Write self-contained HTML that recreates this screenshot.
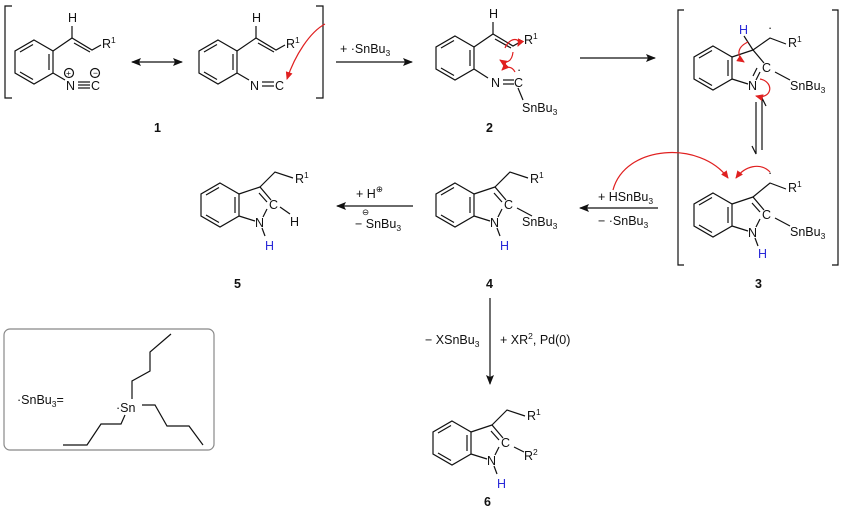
<!DOCTYPE html>
<html><head><meta charset="utf-8"><style>
html,body{margin:0;padding:0;background:#fff}
svg{display:block}
text{font-family:"Liberation Sans",Arial,sans-serif;font-size:12.5px;fill:#111}
.b{font-weight:bold}
.h{fill:#2a2ad8}
.s{font-size:8.5px}
</style></head><body>
<svg width="844" height="512" viewBox="0 0 844 512" xmlns="http://www.w3.org/2000/svg">
<defs>
<g id="benz" fill="none" stroke="#111" stroke-width="1.2">
<polygon points="0,-22 19,-11 19,11 0,22 -19,11 -19,-11"/>
<line x1="15" y1="-8" x2="15" y2="8"/>
<line x1="-1" y1="17.5" x2="-14" y2="10"/>
<line x1="-14" y1="-10" x2="-1" y2="-17.5"/>
</g>
<marker id="ah" markerWidth="10" markerHeight="8" refX="9" refY="4" orient="auto" markerUnits="userSpaceOnUse"><path d="M0,0 L10,4 L0,8 L2,4Z" fill="#111"/></marker>
<marker id="ahb" markerWidth="10" markerHeight="8" refX="1" refY="4" orient="auto" markerUnits="userSpaceOnUse"><path d="M10,0 L0,4 L10,8 L8,4Z" fill="#111"/></marker>
<marker id="rh" markerWidth="8" markerHeight="7" refX="7" refY="3.5" orient="auto" markerUnits="userSpaceOnUse"><path d="M0,0 L8,3.5 L0,7Z" fill="#e02020"/></marker>
</defs>
<g fill="none" stroke="#111" stroke-width="1.2">
<path d="M12,6 H5 V98 H12"/><path d="M316,6 H323 V98 H316"/>
<path d="M684,10 H678 V265 H684"/><path d="M832,10 H838 V265 H832"/>
<line x1="132" y1="62" x2="182" y2="62" marker-end="url(#ah)" marker-start="url(#ahb)"/>
<line x1="336" y1="62" x2="412" y2="62" marker-end="url(#ah)"/>
<line x1="580" y1="58" x2="655" y2="58" marker-end="url(#ah)"/>
<line x1="658" y1="208" x2="580" y2="208" marker-end="url(#ah)"/>
<line x1="413" y1="206" x2="337" y2="206" marker-end="url(#ah)"/>
<line x1="490" y1="298" x2="490" y2="384" marker-end="url(#ah)"/>
<path d="M756,102 V154 L752,146"/><path d="M762,150 V98 L766,106"/>
</g>
<!-- structure 1 -->
<use href="#benz" x="34" y="62"/>
<g fill="none" stroke="#111" stroke-width="1.2">
<path d="M53,51 L72,38 L92,50 L101,45"/><line x1="72" y1="38" x2="72" y2="26"/><line x1="74" y1="43" x2="90" y2="52"/>
<path d="M53,73 L65,80"/>
<line x1="78" y1="82" x2="90" y2="82"/><line x1="78" y1="85" x2="90" y2="85"/><line x1="78" y1="88" x2="90" y2="88"/>
<circle cx="69" cy="73" r="4.5"/><circle cx="95" cy="73" r="4.5"/>
</g>
<text x="68" y="22">H</text><text x="102" y="48">R<tspan class="s" dy="-5">1</tspan></text>
<text x="66" y="90">N</text><text x="91" y="90">C</text>
<text x="66" y="76" class="s">+</text><text x="93" y="76" class="s">−</text>
<text x="154" y="132" class="b">1</text>
<!-- structure 1' -->
<use href="#benz" x="218" y="62"/>
<g fill="none" stroke="#111" stroke-width="1.2">
<path d="M237,51 L256,38 L276,50 L285,45"/><line x1="256" y1="38" x2="256" y2="26"/><line x1="258" y1="43" x2="274" y2="52"/>
<path d="M237,73 L249,80"/>
<line x1="262" y1="82" x2="274" y2="82"/><line x1="262" y1="86" x2="274" y2="86"/>
</g>
<text x="252" y="22">H</text><text x="286" y="48">R<tspan class="s" dy="-5">1</tspan></text>
<text x="250" y="90">N</text><text x="275" y="90">C</text>
<path d="M325,24 C310,32 295,55 287,79" fill="none" stroke="#e02020" stroke-width="1.2" marker-end="url(#rh)"/>
<text x="340" y="53">+ ·SnBu<tspan class="s" dy="3">3</tspan></text>
<!-- structure 2 -->
<use href="#benz" x="455" y="58"/>
<g fill="none" stroke="#111" stroke-width="1.2">
<path d="M474,47 L493,34 L513,46 L522,41"/><line x1="493" y1="34" x2="493" y2="22"/><line x1="495" y1="39" x2="511" y2="48"/>
<path d="M474,69 L488,78"/>
<line x1="503" y1="80" x2="514" y2="80"/><line x1="503" y1="84" x2="514" y2="84"/>
<path d="M518,88 L523,100"/>
</g>
<text x="489" y="18">H</text><text x="524" y="44">R<tspan class="s" dy="-5">1</tspan></text>
<text x="491" y="87">N</text><text x="514" y="87">C</text><text x="517" y="74">·</text>
<text x="522" y="112">SnBu<tspan class="s" dy="3">3</tspan></text>
<text x="486" y="132" class="b">2</text>
<g fill="none" stroke="#e02020" stroke-width="1.2">
<path d="M505,48 C510,36 522,38 518,46" marker-end="url(#rh)"/>
<path d="M513,52 C512,62 506,64 500,60" marker-end="url(#rh)"/>
<path d="M515,72 C512,66 506,66 502,70" marker-end="url(#rh)"/>
</g>
<!-- structure 3 top -->
<use href="#benz" x="713" y="68"/>
<g fill="none" stroke="#111" stroke-width="1.2">
<path d="M732,57 L753,50 L764,63"/><path d="M732,79 L748,84"/><path d="M760,72 L756,80"/><line x1="757" y1="68" x2="753" y2="76"/>
<path d="M753,50 L744,36"/><path d="M753,50 L770,38 L786,44"/><path d="M775,72 L790,80"/>
</g>
<text x="739" y="34" class="h">H</text><text x="768" y="32">·</text>
<text x="788" y="47">R<tspan class="s" dy="-5">1</tspan></text>
<text x="762" y="72">C</text><text x="748" y="90">N</text>
<text x="790" y="90">SnBu<tspan class="s" dy="3">3</tspan></text>
<g fill="none" stroke="#e02020" stroke-width="1.2">
<path d="M748,42 C735,48 738,58 744,62" marker-end="url(#rh)"/>
<path d="M760,79 C775,82 772,100 756,96" marker-end="url(#rh)"/>
</g>
<!-- structure 3 bottom -->
<use href="#benz" x="713" y="215"/>
<g fill="none" stroke="#111" stroke-width="1.2">
<path d="M732,204 L753,197 L764,210"/><line x1="752" y1="203" x2="760" y2="212"/><path d="M732,226 L748,231"/><path d="M760,219 L756,227"/>
<path d="M753,197 L770,183 L786,189"/><path d="M775,218 L790,226"/><path d="M755,238 L758,246"/>
</g>
<text x="768" y="177">·</text><text x="788" y="192">R<tspan class="s" dy="-5">1</tspan></text>
<text x="762" y="219">C</text><text x="748" y="237">N</text><text x="758" y="258" class="h">H</text>
<text x="790" y="236">SnBu<tspan class="s" dy="3">3</tspan></text>
<text x="755" y="288" class="b">3</text>
<g fill="none" stroke="#e02020" stroke-width="1.2">
<path d="M613,190 C625,145 700,140 728,178" marker-end="url(#rh)"/>
<path d="M770,172 C760,162 745,166 736,178" marker-end="url(#rh)"/>
</g>
<text x="598" y="201">+ HSnBu<tspan class="s" dy="3">3</tspan></text>
<text x="598" y="225">− ·SnBu<tspan class="s" dy="3">3</tspan></text>
<!-- structure 4 -->
<use href="#benz" x="455" y="205"/>
<g fill="none" stroke="#111" stroke-width="1.2">
<path d="M474,194 L495,187 L506,200"/><line x1="494" y1="193" x2="502" y2="202"/><path d="M474,216 L490,221"/><path d="M502,209 L498,217"/>
<path d="M495,187 L510,172 L528,178"/><path d="M517,208 L532,216"/><path d="M497,228 L500,236"/>
</g>
<text x="530" y="183">R<tspan class="s" dy="-5">1</tspan></text>
<text x="504" y="209">C</text><text x="490" y="227">N</text><text x="500" y="250" class="h">H</text>
<text x="522" y="226">SnBu<tspan class="s" dy="3">3</tspan></text>
<text x="486" y="288" class="b">4</text>
<text x="356" y="198">+ H<tspan class="s" dy="-6">⊕</tspan></text>
<text x="355" y="228">− SnBu<tspan class="s" dy="3">3</tspan></text><text x="362" y="215" class="s">⊖</text>
<!-- structure 5 -->
<use href="#benz" x="220" y="205"/>
<g fill="none" stroke="#111" stroke-width="1.2">
<path d="M239,194 L260,187 L271,200"/><line x1="259" y1="193" x2="267" y2="202"/><path d="M239,216 L255,221"/><path d="M267,209 L263,217"/>
<path d="M260,187 L275,172 L293,178"/><path d="M280,207 L290,214"/><path d="M262,228 L265,236"/>
</g>
<text x="295" y="183">R<tspan class="s" dy="-5">1</tspan></text>
<text x="269" y="209">C</text><text x="255" y="227">N</text><text x="265" y="250" class="h">H</text>
<text x="290" y="226">H</text>
<text x="234" y="288" class="b">5</text>
<text x="425" y="344">− XSnBu<tspan class="s" dy="3">3</tspan></text>
<text x="500" y="344">+ XR<tspan class="s" dy="-5">2</tspan><tspan dy="5">, Pd(0)</tspan></text>
<!-- structure 6 -->
<use href="#benz" x="452" y="443"/>
<g fill="none" stroke="#111" stroke-width="1.2">
<path d="M471,432 L492,425 L503,438"/><line x1="491" y1="431" x2="499" y2="440"/><path d="M471,454 L487,459"/><path d="M499,447 L495,455"/>
<path d="M492,425 L507,410 L525,416"/><path d="M514,447 L524,452"/><path d="M494,466 L497,474"/>
</g>
<text x="527" y="420">R<tspan class="s" dy="-5">1</tspan></text>
<text x="501" y="447">C</text><text x="487" y="465">N</text><text x="497" y="488" class="h">H</text>
<text x="524" y="460">R<tspan class="s" dy="-5">2</tspan></text>
<text x="484" y="506" class="b">6</text>
<!-- legend box -->
<rect x="4" y="329" width="210" height="121" rx="6" fill="none" stroke="#888" stroke-width="1.2"/>
<text x="17" y="404">·SnBu<tspan class="s" dy="3">3</tspan><tspan dy="-3">=</tspan></text>
<text x="116" y="412">·Sn</text>
<g fill="none" stroke="#111" stroke-width="1.2">
<path d="M132,399 L132,381 L150,371 L150,352 L171,334"/>
<path d="M142,405 L155,405 L167,426 L189,426 L203,445"/>
<path d="M125,415 L121,424 L101,424 L87,445 L63,445"/>
</g>
</svg>
</body></html>
